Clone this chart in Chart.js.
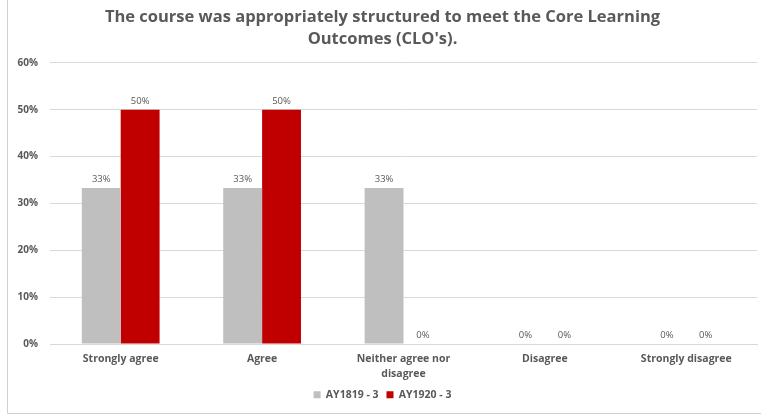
<!DOCTYPE html>
<html>
<head>
<meta charset="utf-8">
<script src="https://cdn.jsdelivr.net/npm/chart.js@4/dist/chart.umd.min.js"></script>
<style>
html,body{margin:0;padding:0;background:#fff;}
#wrap{position:relative;width:761px;height:415px;}
</style>
</head>
<body>
<div id="wrap"><canvas id="c" width="761" height="415"></canvas></div>
<script>
const categories = ['Strongly agree', 'Agree', ['Neither agree nor', 'disagree'], 'Disagree', 'Strongly disagree'];
const seriesNames = ['AY1819 - 3', 'AY1920 - 3'];
const ay1819 = [33.33, 33.33, 33.33, 0, 0];
const ay1920 = [50, 50, 0, 0, 0];
const yTicks = [0, 10, 20, 30, 40, 50, 60];

const FONT = "'Open Sans', Lato, sans-serif";
const TXT = '#595959';

const frame = {
  id: 'frame',
  beforeDraw(chart) {
    const ctx = chart.ctx;
    ctx.save();
    ctx.fillStyle = '#fff';
    ctx.fillRect(0, 0, chart.width, chart.height);
    ctx.strokeStyle = '#d0d0d0';
    ctx.lineWidth = 1;
    ctx.beginPath();
    ctx.moveTo(7.5, 0); ctx.lineTo(7.5, 413.5); ctx.lineTo(chart.width, 413.5);
    ctx.stroke();
    ctx.restore();
  }
};

const valueLabels = {
  id: 'valueLabels',
  afterDatasetsDraw(chart) {
    const ctx = chart.ctx;
    ctx.save();
    ctx.font = "9.5px " + FONT;
    ctx.fillStyle = TXT;
    ctx.textAlign = 'center';
    ctx.textBaseline = 'bottom';
    chart.data.datasets.forEach((ds, i) => {
      const meta = chart.getDatasetMeta(i);
      meta.data.forEach((bar, j) => {
        ctx.fillText(Math.round(ds.data[j]) + '%', bar.x, bar.y - 4);
      });
    });
    ctx.restore();
  }
};

new Chart(document.getElementById('c'), {
  type: 'bar',
  data: {
    labels: categories,
    datasets: [
      { label: seriesNames[0], data: ay1819, backgroundColor: '#BFBFBF' },
      { label: seriesNames[1], data: ay1920, backgroundColor: '#C00000' }
    ]
  },
  options: {
    responsive: false,
    animation: false,
    devicePixelRatio: 1,
    layout: { padding: { left: 8, right: 4, top: 6, bottom: 5 } },
    datasets: { bar: { categoryPercentage: 0.55, barPercentage: 1.0 } },
    plugins: {
      title: {
        display: true,
        text: ['The course was appropriately structured to meet the Core Learning', "Outcomes (CLO's)."],
        color: TXT,
        font: { family: FONT, size: 16.5, weight: 'bold', lineHeight: 1.33 },
        padding: { top: 0, bottom: 13 }
      },
      legend: {
        position: 'bottom',
        labels: {
          color: TXT,
          font: { family: FONT, size: 10.5, weight: 'bold' },
          boxWidth: 7, boxHeight: 7, padding: 8
        }
      },
      tooltip: { enabled: false }
    },
    scales: {
      x: {
        grid: { display: false },
        border: { color: '#d9d9d9' },
        ticks: { color: TXT, padding: 0, font: { family: FONT, size: 10.5, weight: 'bold', lineHeight: 1.4 }, maxRotation: 0, autoSkip: false }
      },
      y: {
        min: 0, max: 60,
        afterBuildTicks(axis) { axis.ticks = yTicks.map(v => ({ value: v })); },
        afterFit(axis) { axis.width = 42; },
        grid: { color: '#d9d9d9', drawTicks: false },
        border: { display: false },
        ticks: { color: TXT, padding: 12, font: { family: FONT, size: 10, weight: 'bold' }, callback: v => v + '%' }
      }
    }
  },
  plugins: [frame, valueLabels]
});
</script>
</body>
</html>
